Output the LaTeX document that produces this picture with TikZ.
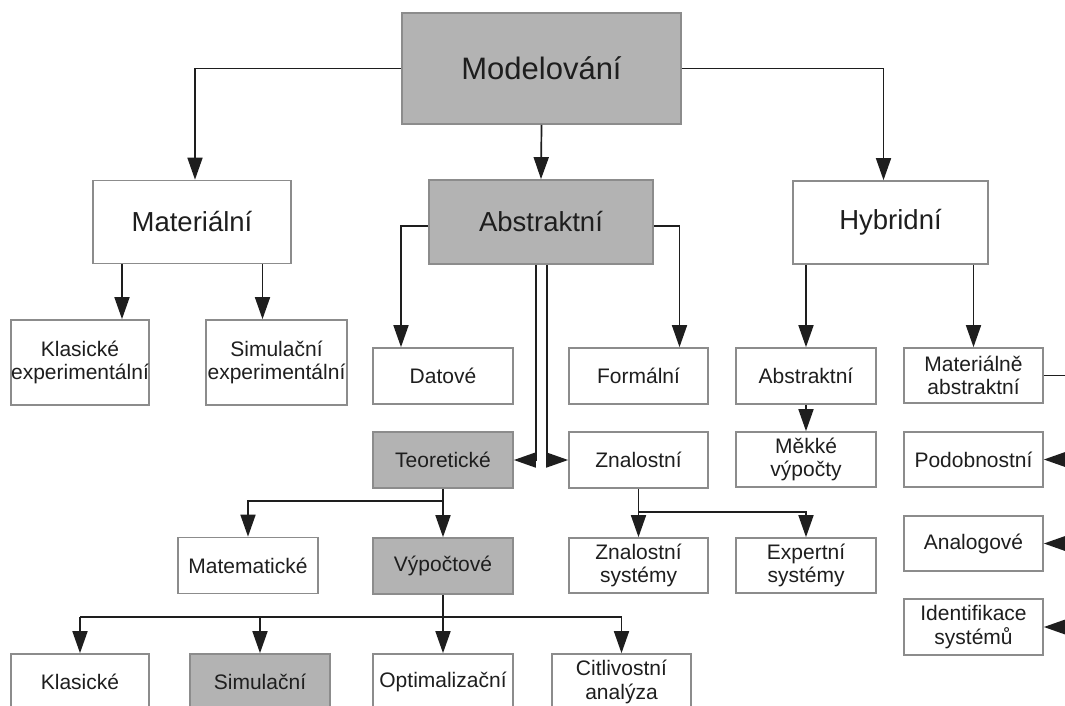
\documentclass[tikz,border=0pt]{standalone}
\usepackage{fontspec}
\setmainfont{Liberation Sans}
\usepackage{tikz}
\usetikzlibrary{arrows.meta,positioning,calc}
\usepackage{xcolor}
\definecolor{ink}{RGB}{30,30,30}
\definecolor{edge}{RGB}{140,140,140}
\definecolor{shade}{RGB}{179,179,179}
\tikzset{
  box/.style={draw=edge,line width=1.7pt,fill=white,inner sep=0pt,align=center,
    text=ink,minimum width=140pt,minimum height=56pt,
    font=\fontsize{21}{23.5}\selectfont},
  gbox/.style={box,fill=shade},
  big/.style={minimum width=198pt,minimum height=83pt,font=\fontsize{27.5}{31}\selectfont},
  arr/.style={-{Triangle[length=22pt,width=15pt]},line width=1.7pt,draw=ink},
  ln/.style={line width=1.7pt,draw=ink},
}

\begin{document}
\begin{tikzpicture}[x=1pt,y=-1pt]
  \useasboundingbox[fill=white] (0,0) rectangle (1065,705);
  % top levels
  \node[gbox,minimum width=279pt,minimum height=111pt,font=\fontsize{31}{34}\selectfont] (mod) at (541.5,68.5) {Modelování};
  \node[box,big] (mat) at (192,222) {Materiální};
  \node[gbox,big,minimum width=224pt,minimum height=84pt] (abs) at (541,222) {Abstraktní};
  \node[box,big,minimum width=195pt] (hyb) at (890.5,222.5) {Hybridní};
  % under Materiální
  \node[box,minimum width=138pt,minimum height=85pt] (klexp) at (80,362.5) {Klasické\\experimentální};
  \node[box,minimum width=141pt,minimum height=85pt] (simexp) at (276.5,362.5) {Simulační\\experimentální};
  % under Abstraktní
  \node[box] (dat) at (443,376) {Datové};
  \node[box,minimum width=139pt] (form) at (638.5,376) {Formální};
  \node[gbox] (teor) at (443,460) {Teoretické};
  \node[box,minimum width=139pt] (znal) at (638.5,460) {Znalostní};
  \node[box] (matem) at (248,565.5) {Matematické};
  \node[gbox] (vyp) at (443,566) {Výpočtové};
  \node[box,minimum width=139pt,minimum height=55pt] (znsys) at (638.5,565.5) {Znalostní\\systémy};
  \node[box,minimum height=55pt] (expsys) at (806,565.5) {Expertní\\systémy};
  \node[box,minimum width=138pt] (klas) at (80,682) {Klasické};
  \node[gbox] (sim) at (260,682) {Simulační};
  \node[box] (opt) at (443,682) {Optimalizační};
  \node[box,minimum width=139pt] (citl) at (621.5,682) {Citlivostní\\analýza};
  % under Hybridní
  \node[box] (absm) at (806,376) {Abstraktní};
  \node[box,minimum height=55pt] (mekke) at (806,459.5) {Měkké\\výpočty};
  \node[box,minimum width=139pt,minimum height=55pt] (matabs) at (973.5,375.5) {Materiálně\\abstraktní};
  \node[box,minimum width=139pt,minimum height=55pt] (podob) at (973.5,459.5) {Podobnostní};
  \node[box,minimum width=139pt,minimum height=55pt] (analog) at (973.5,543.5) {Analogové};
  \node[box,minimum width=139pt] (ident) at (973.5,627) {Identifikace\\systémů};

  \coordinate (k1) at ([xshift=42pt]klexp.north);
  \coordinate (s1) at ([xshift=-14pt]simexp.north);
  \coordinate (tb) at ([yshift=-12pt]teor.south);
  \coordinate (vb) at ([yshift=-22pt]vyp.south);
  \coordinate (zb) at ([yshift=-23pt]znal.south);
  \coordinate (re) at (1065,0);

  \draw[arr] (mod.west) -| ([xshift=3pt]mat.north);
  \draw[arr] (mod.south) -- (abs.north);
  \draw[arr] (mod.east) -| ([xshift=-7pt]hyb.north);

  \draw[arr] (mat.south -| k1) -- (k1);
  \draw[arr] (mat.south -| s1) -- (s1);

  \draw[arr] ([yshift=-4pt]abs.west) -| ([xshift=-42pt]dat.north);
  \draw[arr] ([yshift=-4pt]abs.east) -| ([xshift=41pt]form.north);
  \draw[arr] ([xshift=-5pt]abs.south) |- (teor.east);
  \draw[arr] ([xshift=6pt]abs.south) |- (znal.west);

  \draw[arr] (teor.south) -- (vyp.north);
  \draw[arr] (tb) -| (matem.north);

  \draw[ln] (vyp.south) -- (vb);
  \draw[ln] (vb -| klas.north) -- (vb -| citl.north);
  \foreach \n in {klas,sim,opt,citl}
    \draw[arr] (vb -| \n.north) -- (\n.north);

  \draw[arr] (znal.south) -- (znsys.north);
  \draw[arr] (zb) -| (expsys.north);

  \draw[arr] (hyb.south -| absm.north) -- (absm.north);
  \draw[arr] (hyb.south -| matabs.north) -- (matabs.north);
  \draw[arr] (absm.south) -- (mekke.north);

  \draw[ln] (matabs.east) -- (matabs.east -| re);
  \foreach \n in {podob,analog,ident}
    \draw[arr] (\n.east -| re) -- (\n.east);
\end{tikzpicture}
\end{document}
